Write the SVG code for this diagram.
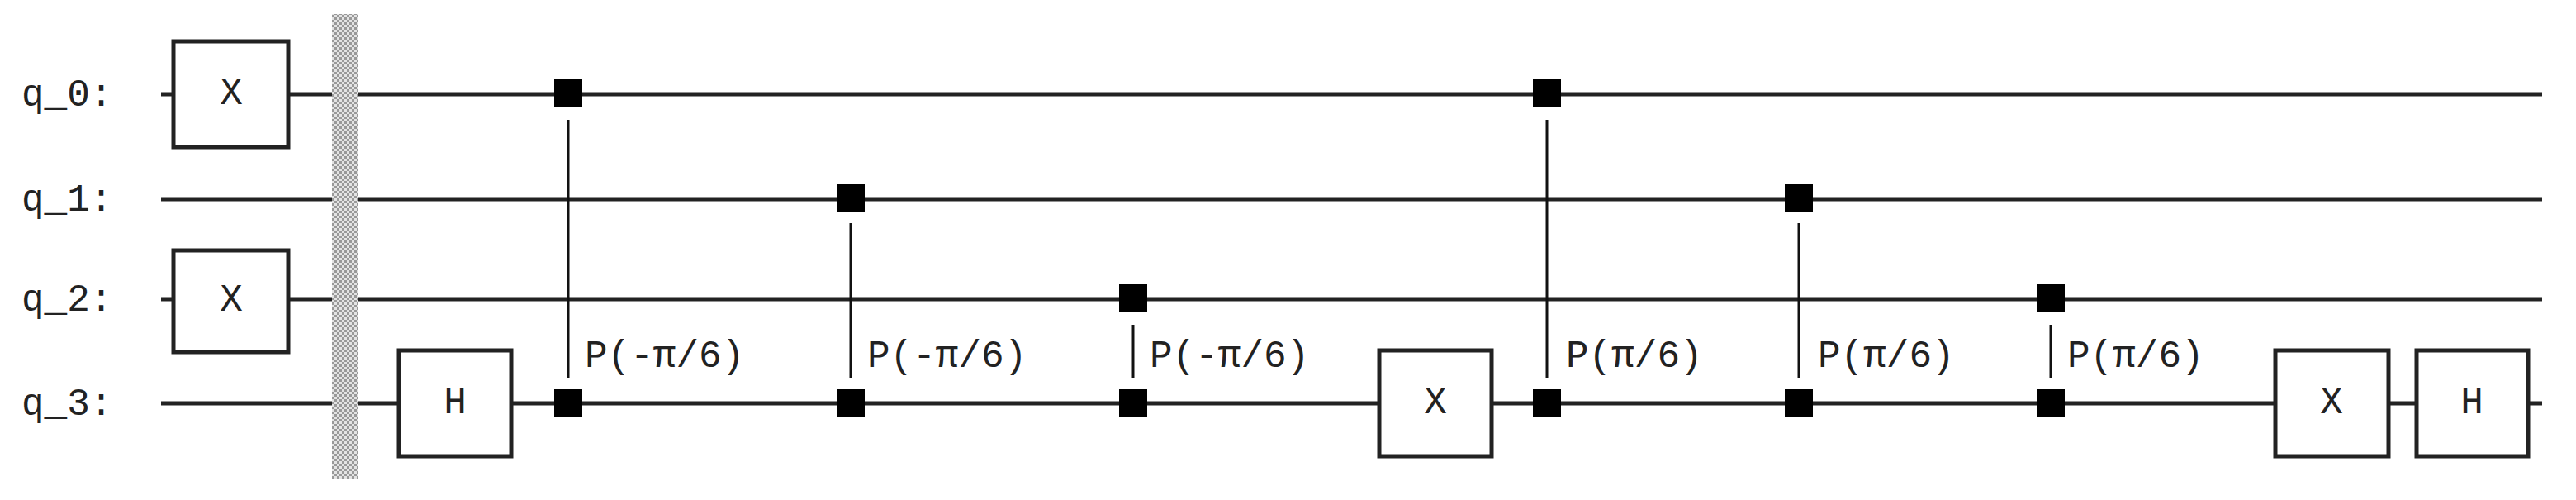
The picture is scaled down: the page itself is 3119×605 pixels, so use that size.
<svg xmlns="http://www.w3.org/2000/svg" width="3119" height="605" viewBox="0 0 3119 605">
<style>
.w{stroke:#222;stroke-width:5}
.g{fill:#fff;stroke:#222;stroke-width:5}
.c{fill:#000}
.v{stroke:#111;stroke-width:3}
text{font-family:"Liberation Mono","DejaVu Sans Mono",monospace;font-size:46px;fill:#222}
.m{text-anchor:middle;dominant-baseline:central}
</style>
<defs>
<pattern id="st" width="6" height="6" patternUnits="userSpaceOnUse">
<rect width="6" height="6" fill="#e4e4e4"/><rect width="3" height="3" fill="#999"/><rect x="3" y="3" width="3" height="3" fill="#999"/>
</pattern>
</defs>
<g id="labels">
<text x="26" y="128">q_0:</text>
<text x="26" y="255">q_1:</text>
<text x="26" y="376">q_2:</text>
<text x="26" y="502">q_3:</text>
</g>
<g id="wires">
<line class="w" x1="195" y1="114" x2="3078" y2="114"/>
<line class="w" x1="195" y1="241" x2="3078" y2="241"/>
<line class="w" x1="195" y1="362" x2="3078" y2="362"/>
<line class="w" x1="195" y1="488" x2="3078" y2="488"/>
</g>
<g id="barrier"><rect x="402" y="17" width="32" height="562" fill="url(#st)"/></g>
<g id="connectors">
<line class="v" x1="688" y1="145" x2="688" y2="457"/>
<line class="v" x1="1030" y1="270" x2="1030" y2="457"/>
<line class="v" x1="1372" y1="393" x2="1372" y2="457"/>
<line class="v" x1="1873" y1="145" x2="1873" y2="457"/>
<line class="v" x1="2178" y1="270" x2="2178" y2="457"/>
<line class="v" x1="2483" y1="393" x2="2483" y2="457"/>
</g>
<g id="x0"><rect class="g" x="210" y="50" width="139" height="128"/><text class="m" x="280" y="114">X</text></g>
<g id="x2"><rect class="g" x="210" y="303" width="139" height="123"/><text class="m" x="280" y="364">X</text></g>
<g id="h3"><rect class="g" x="483" y="424" width="136" height="128"/><text class="m" x="551" y="488">H</text></g>
<g id="x3a"><rect class="g" x="1670" y="424" width="136" height="128"/><text class="m" x="1738" y="488">X</text></g>
<g id="x3b"><rect class="g" x="2755" y="424" width="137" height="128"/><text class="m" x="2823" y="488">X</text></g>
<g id="h3b"><rect class="g" x="2926" y="424" width="135" height="128"/><text class="m" x="2993" y="488">H</text></g>
<g id="cp1"><rect class="c" x="671" y="96" width="34" height="34"/><rect class="c" x="671" y="471" width="34" height="34"/><text x="708" y="444">P(-π/6)</text></g>
<g id="cp2"><rect class="c" x="1013" y="223" width="34" height="34"/><rect class="c" x="1013" y="471" width="34" height="34"/><text x="1050" y="444">P(-π/6)</text></g>
<g id="cp3"><rect class="c" x="1355" y="344" width="34" height="34"/><rect class="c" x="1355" y="471" width="34" height="34"/><text x="1392" y="444">P(-π/6)</text></g>
<g id="cp4"><rect class="c" x="1856" y="96" width="34" height="34"/><rect class="c" x="1856" y="471" width="34" height="34"/><text x="1896" y="444">P(π/6)</text></g>
<g id="cp5"><rect class="c" x="2161" y="223" width="34" height="34"/><rect class="c" x="2161" y="471" width="34" height="34"/><text x="2201" y="444">P(π/6)</text></g>
<g id="cp6"><rect class="c" x="2466" y="344" width="34" height="34"/><rect class="c" x="2466" y="471" width="34" height="34"/><text x="2503" y="444">P(π/6)</text></g>
</svg>
